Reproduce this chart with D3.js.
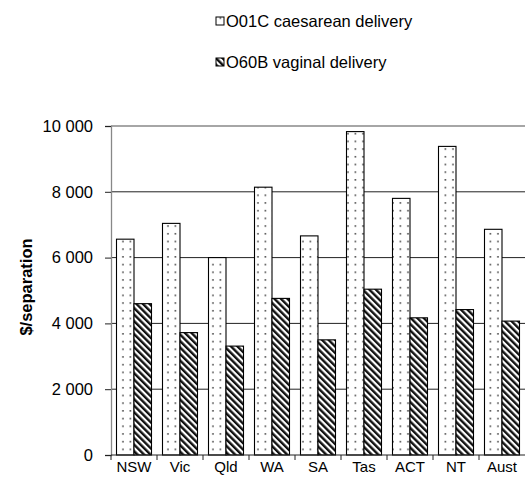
<!DOCTYPE html>
<html><head><meta charset="utf-8">
<script src="https://cdn.jsdelivr.net/npm/d3@7"></script>
<style>body{margin:0;background:#fff}svg{display:block}text{font-family:"Liberation Sans",Arial,sans-serif}</style>
</head><body>
<script>
const categories = ["NSW","Vic","Qld","WA","SA","Tas","ACT","NT","Aust"];
const seriesNames = ["O01C caesarean delivery","O60B vaginal delivery"];
const caesarean = [6560, 7040, 6000, 8140, 6660, 9830, 7800, 9380, 6860];
const vaginal = [4600, 3720, 3310, 4760, 3500, 5040, 4170, 4420, 4070];
const yTicks = [0, 2000, 4000, 6000, 8000, 10000];

const W = 525, H = 485;
const svg = d3.select("body").append("svg").attr("width", W).attr("height", H);
const defs = svg.append("defs");
const pd = defs.append("pattern").attr("id","dots").attr("patternUnits","userSpaceOnUse")
  .attr("width",7.5).attr("height",7.7);
pd.append("rect").attr("width",7.5).attr("height",7.7).attr("fill","#fff");
pd.append("rect").attr("x",2.2).attr("y",2).attr("width",1.5).attr("height",1.5).attr("fill","#333");
const ph = defs.append("pattern").attr("id","hatch").attr("patternUnits","userSpaceOnUse")
  .attr("width",4.6).attr("height",4.6).attr("patternTransform","rotate(-45)");
ph.append("rect").attr("width",4.6).attr("height",4.6).attr("fill","#fff");
ph.append("rect").attr("x",0).attr("width",2.4).attr("height",4.6).attr("fill","#111");

const m = {l:111, r:525, t:126, b:455};
const x = d3.scaleBand().domain(categories).range([m.l, m.r]).paddingInner(0).paddingOuter(0);
const y = d3.scaleLinear().domain([0,10000]).range([m.b, m.t]);
const xs = d3.scaleBand().domain([0,1]).range([0, 35]);

// gridlines
svg.append("g").selectAll("line").data(yTicks.filter(d=>d>0)).join("line")
  .attr("x1", m.l).attr("x2", m.r).attr("y1", d=>y(d)).attr("y2", d=>y(d))
  .attr("stroke", d=> d===10000 ? "#888" : "#222").attr("stroke-width", d=>d===10000?1.3:1);

const fills = ["url(#dots)","url(#hatch)"];
const data = [caesarean, vaginal];
const g = svg.append("g");
categories.forEach((c,i)=>{
  [0,1].forEach(s=>{
    const x0 = x(c) + (x.bandwidth()-35)/2 + xs(s);
    g.append("rect").attr("x", x0).attr("y", y(data[s][i]))
      .attr("width", xs.bandwidth()).attr("height", y(0)-y(data[s][i]))
      .attr("fill", fills[s]).attr("stroke","#000").attr("stroke-width",1.1);
  });
});

// y axis
const ya = svg.append("g").attr("transform",`translate(${m.l},0)`)
  .call(d3.axisLeft(y).tickValues(yTicks).tickSize(6).tickPadding(12)
    .tickFormat(d=> d3.format(",")(d).replace(/,/g," ")));
ya.select(".domain").attr("stroke","#888").attr("stroke-width",1.3);
ya.selectAll(".tick line").attr("stroke","#222");
ya.selectAll("text").attr("font-size",16.5).attr("font-family","Liberation Sans, Arial").attr("fill","#000");

// x axis
const xa = svg.append("g").attr("transform",`translate(0,${m.b})`);
xa.append("line").attr("x1",m.l).attr("x2",m.r).attr("stroke","#222");
xa.selectAll("line.t").data(categories).join("line").attr("class","t")
  .attr("x1",d=>x(d)).attr("x2",d=>x(d)).attr("y1",0).attr("y2",5).attr("stroke","#222");
xa.selectAll("text").data(categories).join("text")
  .attr("x",d=>x(d)+x.bandwidth()/2).attr("y",6).attr("dy","0.71em").attr("text-anchor","middle")
  .attr("font-size",15).text(d=>d);

// y title
svg.append("text").attr("transform","translate(32,287) rotate(-90)")
  .attr("text-anchor","middle").attr("font-size",16.5).attr("font-weight","bold").text("$/separation");

// legend
const lg = svg.append("g");
seriesNames.forEach((n,i)=>{
  const base = 27 + i*41;
  lg.append("rect").attr("x",216).attr("y",base-10).attr("width",8).attr("height",8)
    .attr("fill",fills[i]).attr("stroke","#000");
  lg.append("text").attr("x",226).attr("y",base).attr("font-size",16.5).text(n);
});
</script>
</body></html>
